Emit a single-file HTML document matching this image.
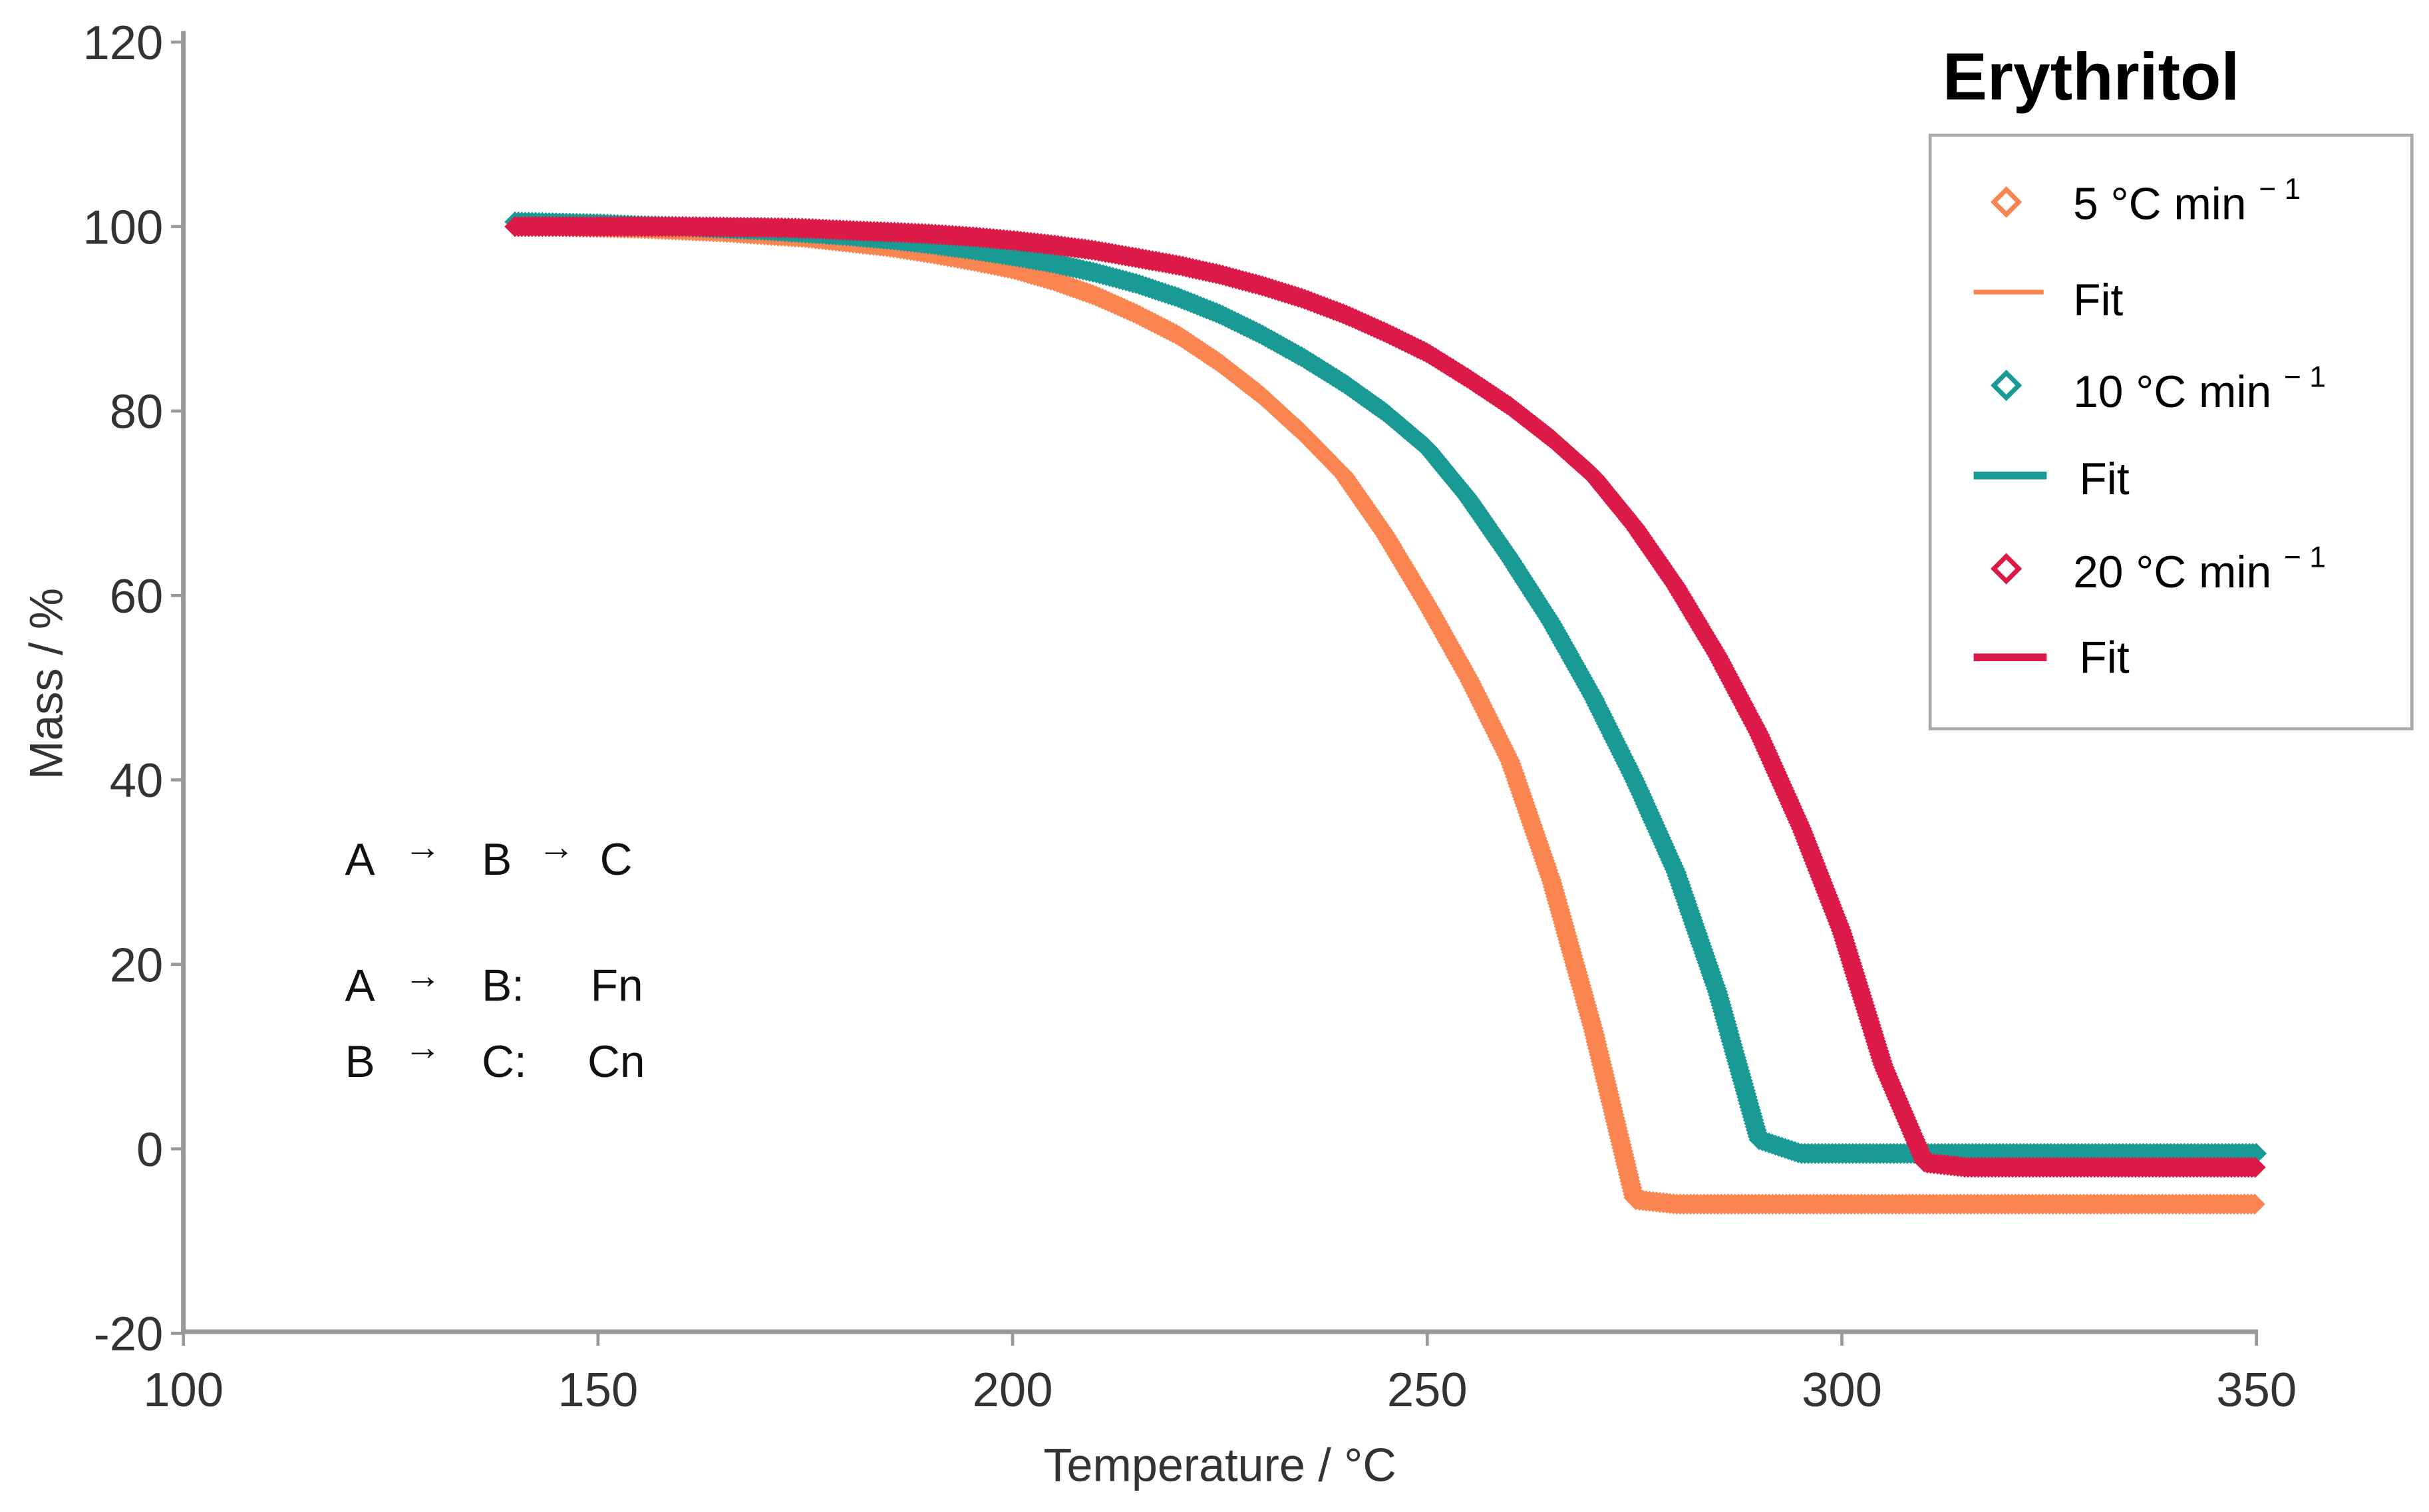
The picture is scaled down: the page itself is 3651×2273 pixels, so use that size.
<!DOCTYPE html>
<html><head><meta charset="utf-8"><style>
html,body{margin:0;padding:0;background:#fff;}
svg{display:block;}
text{font-family:"Liberation Sans","DejaVu Sans",sans-serif;}
</style></head><body>
<svg id="chart" width="3651" height="2273" viewBox="0 0 1563 973" preserveAspectRatio="none" xmlns="http://www.w3.org/2000/svg">
<g id="axes"></g>
<g id="series"></g>
<text x="0" y="0" transform="translate(40,440) rotate(-90)" text-anchor="middle" font-size="30" fill="#333">Mass / %</text>
<text x="785" y="953" text-anchor="middle" font-size="30" fill="#333">Temperature / °C</text>
<g font-size="29" fill="#111">
<text x="222" y="563">A</text><text x="260" y="553" font-size="24">→</text><text x="310" y="563">B</text><text x="346" y="553" font-size="24">→</text><text x="386" y="563">C</text>
<text x="222" y="644">A</text><text x="260" y="636" font-size="24">→</text><text x="310" y="644">B:</text><text x="380" y="644">Fn</text>
<text x="222" y="693">B</text><text x="260" y="682" font-size="24">→</text><text x="310" y="693">C:</text><text x="378" y="693">Cn</text>
</g>
<text x="1250" y="64" font-size="43" font-weight="bold" fill="#000">Erythritol</text>
<g>
<rect x="1242" y="87" width="310" height="382" fill="#fff" stroke="#aaa" stroke-width="2"/>
<g><path d="M1291,122 l8,8 l-8,8 l-8,-8z" fill="none" stroke="#fa8550" stroke-width="3"/><text x="1334" y="141" font-size="29">5 °C min <tspan font-size="19" dy="-13">− 1</tspan></text></g>
<g><line x1="1270" y1="188" x2="1315" y2="188" stroke="#fa8550" stroke-width="3"/><text x="1334" y="203" font-size="29">Fit</text></g>
<g><path d="M1291,240 l8,8 l-8,8 l-8,-8z" fill="none" stroke="#1a9a94" stroke-width="3"/><text x="1334" y="262" font-size="29">10 °C min <tspan font-size="19" dy="-13">− 1</tspan></text></g>
<g><line x1="1270" y1="306" x2="1317" y2="306" stroke="#1a9a94" stroke-width="5"/><text x="1338" y="318" font-size="29">Fit</text></g>
<g><path d="M1291,358 l8,8 l-8,8 l-8,-8z" fill="none" stroke="#dc1a48" stroke-width="3"/><text x="1334" y="378" font-size="29">20 °C min <tspan font-size="19" dy="-13">− 1</tspan></text></g>
<g><line x1="1270" y1="423" x2="1317" y2="423" stroke="#dc1a48" stroke-width="5"/><text x="1338" y="433" font-size="29">Fit</text></g>
</g>
</svg>
<script>
const temps = [140,145,150,155,160,165,170,175,180,185,190,195,200,205,210,215,220,225,230,235,240,245,250,255,260,265,270,275,280,285,290,295,300,305,310,315,320,325,330,335,340,345,350];
const mass5 = [100,100,99.9,99.8,99.6,99.4,99.1,98.8,98.3,97.8,97.1,96.3,95.4,94.1,92.5,90.5,88.2,85.2,81.7,77.6,73,66.5,59,51,42,29,13,-5.5,-6,-6,-6,-6,-6,-6,-6,-6,-6,-6,-6,-6,-6,-6,-6];
const mass10 = [100.5,100.4,100.3,100.1,100,99.8,99.6,99.3,99,98.6,98.1,97.5,96.8,96,95,93.8,92.3,90.5,88.3,85.8,83,79.8,76,70.5,64,57,49,40,30,17,1,-0.5,-0.5,-0.5,-0.5,-0.5,-0.5,-0.5,-0.5,-0.5,-0.5,-0.5,-0.5];
const mass20 = [100,100,100,100,100,99.95,99.9,99.8,99.6,99.4,99.2,98.9,98.5,98,97.4,96.6,95.8,94.8,93.6,92.2,90.5,88.5,86.3,83.5,80.5,77,73,67.5,61,53.5,45,35,23.5,9,-1.5,-2,-2,-2,-2,-2,-2,-2,-2];
const xTicks = [100,150,200,250,300,350];
const yTicks = [-20,0,20,40,60,80,100,120];

const NS = "http://www.w3.org/2000/svg";
function X(t){ return 118 + (t-100)/250*1334; }
function Y(m){ return 739.3 - m*5.935; }
function mk(tag, attrs, parent){ const e=document.createElementNS(NS,tag); for(const k in attrs) e.setAttribute(k,attrs[k]); parent.appendChild(e); return e; }

const axes = document.getElementById('axes');
const yAxis = mk('line',{x1:118,y1:20,x2:118,y2:858,stroke:'#999','stroke-width':3},axes);


const xAxis = mk('line',{x1:116.5,y1:857,x2:1453,y2:857,stroke:'#999','stroke-width':3},axes);


xTicks.forEach(t=>{
  const tk = mk('line',{x1:X(t),y1:857,x2:X(t),y2:866,stroke:'#999','stroke-width':2},axes);
  
  
  const lb = mk('text',{x:X(t),y:905,'text-anchor':'middle','font-size':31,fill:'#333'},axes);
  lb.textContent = t;
  
  
});
yTicks.forEach(v=>{
  const tk = mk('line',{x1:110,y1:Y(v),x2:118,y2:Y(v),stroke:'#999','stroke-width':2},axes);
  
  
  const lb = mk('text',{x:105,y:Y(v)+11,'text-anchor':'end','font-size':31,fill:'#333'},axes);
  lb.textContent = v;
  
  
});

const seriesG = document.getElementById('series');
function drawSeries(vals, color, name, fitW){
  const d = temps.map((t,i)=>(i?'L':'M')+X(t).toFixed(2)+','+Y(vals[i]).toFixed(2)).join(' ');
  const g = mk('g',{},seriesG);
  
  
  const guide = mk('path',{d:d,fill:'none',stroke:'none'},g);
  const len = guide.getTotalLength();
  let md = '';
  for(let s=0;s<=len;s+=2.2){
    const p = guide.getPointAtLength(s);
    md += 'M'+p.x.toFixed(1)+','+(p.y-5.5).toFixed(1)+'l5.5,5.5l-5.5,5.5l-5.5,-5.5z';
  }
  const markers = mk('path',{d:md,fill:'none',stroke:color,'stroke-width':1.8},g);
  
  
  const fit = mk('path',{d:d,fill:'none',stroke:color,'stroke-width':fitW,'stroke-linejoin':'round'},g);
  
  
}
drawSeries(mass5,'#fa8550','rate-5',3);
drawSeries(mass10,'#1a9a94','rate-10',4);
drawSeries(mass20,'#dc1a48','rate-20',4);
</script>
</body></html>
